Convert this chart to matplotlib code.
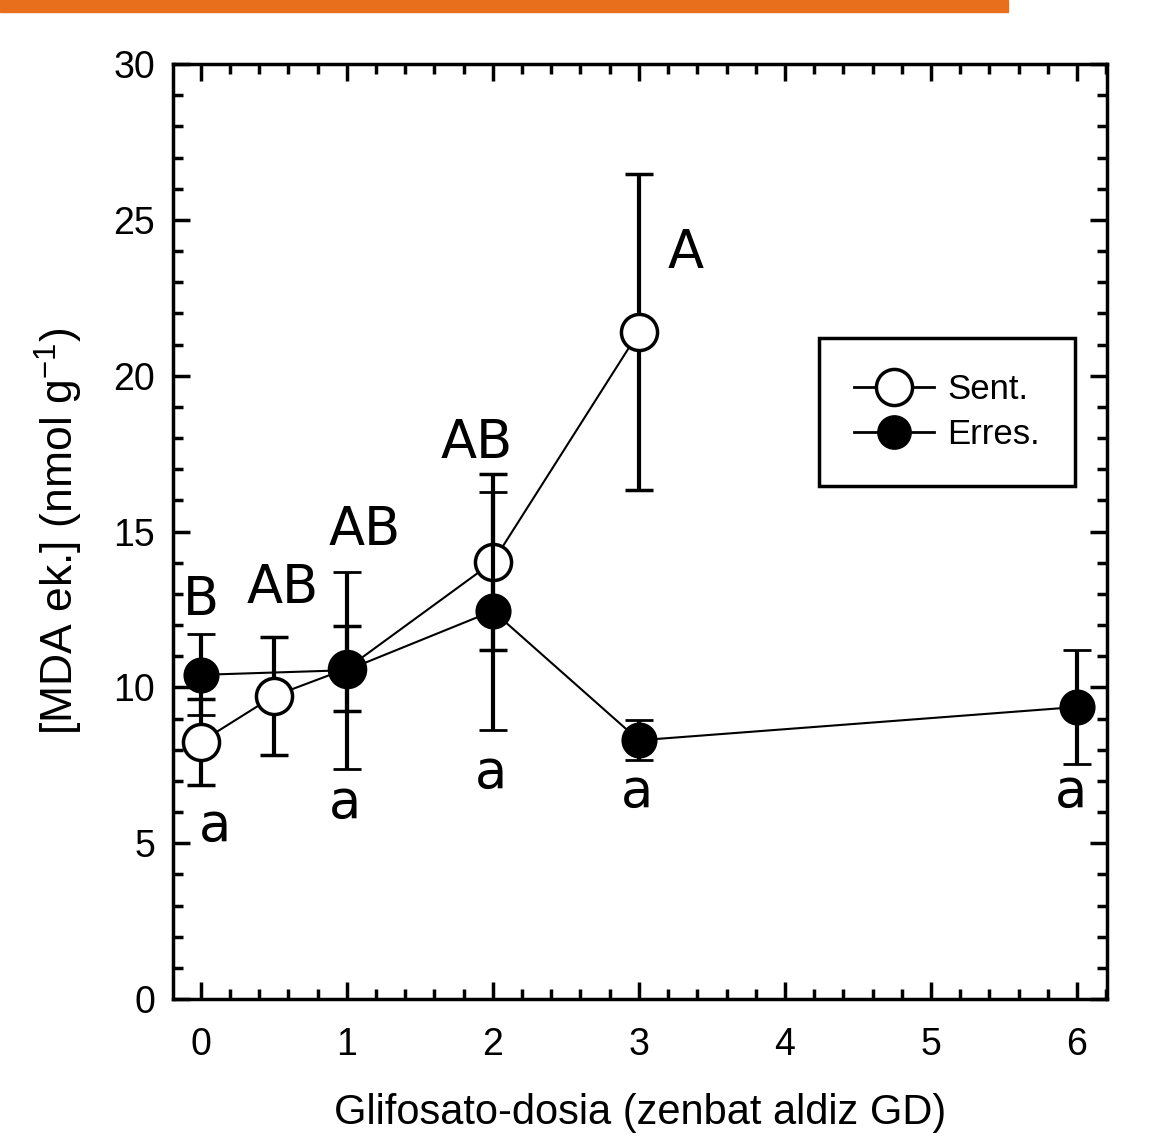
import matplotlib.pyplot as plt
from matplotlib.lines import Line2D
from matplotlib.ticker import MultipleLocator

plt.rcParams['font.family'] = ['Liberation Sans', 'DejaVu Sans']

# Sentikorra (open circles)
sent_x = [0, 0.5, 1, 2, 3]
sent_y = [8.25, 9.72, 10.6, 14.02, 21.4]
sent_err = [1.37, 1.88, 1.37, 2.82, 5.07]

# Erresistentea (filled circles)
erres_x = [0, 1, 2, 3, 6]
erres_y = [10.4, 10.55, 12.45, 8.3, 9.37]
erres_err = [1.3, 3.16, 3.82, 0.64, 1.82]

# significance letters (upper: Sent., lower: Erres.)
upper_txt = ['B', 'AB', 'AB', 'AB', 'A']
upper_x = [0, 0.56, 1.12, 1.89, 3.32]
upper_y = [12.8, 13.2, 15.05, 17.85, 23.95]
lower_txt = ['a', 'a', 'a', 'a', 'a']
lower_x = [0.1, 0.99, 1.99, 2.99, 5.96]
lower_y = [5.55, 6.3, 7.25, 6.65, 6.65]

fig = plt.figure(figsize=(11.58, 11.42), dpi=100)
ax = fig.add_axes([173 / 1158, 1 - 999 / 1142, 934 / 1158, 935 / 1142])

# orange strip on top
fig.patches.append(plt.Rectangle((0, 1 - 12 / 1142), 1008 / 1158, 12 / 1142,
                                 transform=fig.transFigure, color='#e8701c'))

ax.errorbar(sent_x, sent_y, yerr=sent_err, fmt='-o', color='k', lw=1.5,
            elinewidth=3, capsize=10, capthick=3, ms=26, mfc='white',
            mec='k', mew=2.5, zorder=3)
ax.errorbar(erres_x, erres_y, yerr=erres_err, fmt='-o', color='k', lw=1.5,
            elinewidth=3, capsize=10, capthick=3, ms=24, mfc='k',
            mec='k', mew=2, zorder=4)

for t, x, y in zip(upper_txt, upper_x, upper_y):
    ax.text(x, y, t, ha='center', va='center', fontsize=38, family='DejaVu Sans')
for t, x, y in zip(lower_txt, lower_x, lower_y):
    ax.text(x, y, t, ha='center', va='center', fontsize=38, family='DejaVu Sans')

ax.set_xlim(-0.19, 6.205)
ax.set_ylim(0, 30)
ax.xaxis.set_major_locator(MultipleLocator(1))
ax.xaxis.set_minor_locator(MultipleLocator(0.2))
ax.yaxis.set_major_locator(MultipleLocator(5))
ax.yaxis.set_minor_locator(MultipleLocator(1))
ax.tick_params(which='both', direction='in', top=True, right=True, width=2.5,
               labelsize=27)
ax.tick_params(axis='x', pad=20)
ax.tick_params(axis='y', pad=13)
ax.tick_params(which='major', length=12)
ax.tick_params(which='minor', length=7)
for s in ax.spines.values():
    s.set_linewidth(2.5)

ax.set_xlabel('Glifosato-dosia (zenbat aldiz GD)', fontsize=30, labelpad=22)
ax.set_ylabel('[MDA ek.] (nmol g$^{\\mathregular{-1}}$)', fontsize=32, labelpad=20)

handles = [
    Line2D([], [], color='k', lw=2, marker='o', ms=26, mfc='white', mec='k', mew=2.5),
    Line2D([], [], color='k', lw=2, marker='o', ms=24, mfc='k', mec='k'),
]
leg = ax.legend(handles, ['Sent.', 'Erres.'], loc='upper left',
                bbox_to_anchor=(646 / 934, (999 - 338) / 935), fontsize=25,
                frameon=True, fancybox=False, edgecolor='k', framealpha=1,
                handlelength=2.3, borderpad=1.0, labelspacing=0.35,
                handletextpad=0.4, borderaxespad=0)
leg.get_frame().set_linewidth(2.5)

fig.savefig('out.png', dpi=100)
